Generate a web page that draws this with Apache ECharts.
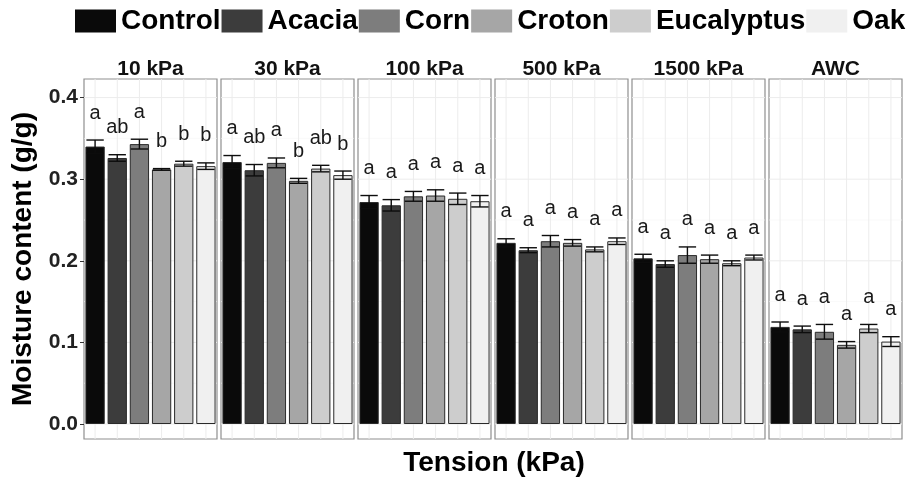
<!DOCTYPE html>
<html><head><meta charset="utf-8">
<script src="https://cdn.jsdelivr.net/npm/echarts@6/dist/echarts.min.js"></script>
<style>html,body{margin:0;padding:0;background:#fff}#c{width:907px;height:480px}</style>
</head><body><div id="c"></div>
<script>
// ---- data ----
const panels = ['10 kPa', '30 kPa', '100 kPa', '500 kPa', '1500 kPa', 'AWC'];
const treatments = ['Control', 'Acacia', 'Corn', 'Croton', 'Eucalyptus', 'Oak'];
const mean10 = [0.340, 0.326, 0.343, 0.312, 0.319, 0.316];
const mean30 = [0.321, 0.311, 0.320, 0.298, 0.313, 0.305];
const mean100 = [0.272, 0.268, 0.279, 0.280, 0.276, 0.273];
const mean500 = [0.222, 0.213, 0.224, 0.222, 0.214, 0.224];
const mean1500 = [0.203, 0.196, 0.207, 0.202, 0.197, 0.204];
const meanAWC = [0.119, 0.116, 0.113, 0.097, 0.117, 0.101];
const se10 = [0.008, 0.004, 0.006, 0.001, 0.003, 0.004];
const se30 = [0.008, 0.007, 0.006, 0.003, 0.004, 0.005];
const se100 = [0.008, 0.007, 0.006, 0.007, 0.007, 0.007];
const se500 = [0.005, 0.003, 0.007, 0.004, 0.003, 0.004];
const se1500 = [0.005, 0.004, 0.010, 0.005, 0.003, 0.003];
const seAWC = [0.006, 0.004, 0.009, 0.004, 0.005, 0.006];
const let10 = ['a', 'ab', 'a', 'b', 'b', 'b'];
const let30 = ['a', 'ab', 'a', 'b', 'ab', 'b'];
const let100 = ['a', 'a', 'a', 'a', 'a', 'a'];
const let500 = ['a', 'a', 'a', 'a', 'a', 'a'];
const let1500 = ['a', 'a', 'a', 'a', 'a', 'a'];
const letAWC = ['a', 'a', 'a', 'a', 'a', 'a'];
const yTicks = [0, 0.1, 0.2, 0.3, 0.4];
const yMinor = [0.05, 0.15, 0.25, 0.35];

const means = [mean10, mean30, mean100, mean500, mean1500, meanAWC];
const ses = [se10, se30, se100, se500, se1500, seAWC];
const letters = [let10, let30, let100, let500, let1500, letAWC];

// ---- style / layout ----
const colors = ['#0a0a0a', '#3c3c3c', '#7d7d7d', '#a6a6a6', '#cdcdcd', '#f0f0f0'];
const FONT = '"Liberation Sans", Arial, sans-serif';
const panelLeft = [84, 221, 358, 495, 632, 769];
const panelW = 133;
const panelTop = 79, panelBottom = 439;
const zeroY = 424, pxPerUnit = 816;
const yMax = (zeroY - panelTop) / pxPerUnit;
const yMin = -(panelBottom - zeroY) / pxPerUnit;

const grids = [], xAxes = [], yAxes = [], series = [];
panels.forEach((pn, p) => {
  grids.push({left: panelLeft[p], width: panelW, top: panelTop, height: panelBottom - panelTop,
    show: true, borderColor: '#8f8f8f', borderWidth: 1.2, backgroundColor: '#fff', containLabel: false});
  xAxes.push({type: 'category', gridIndex: p, data: treatments, position: 'top',
    axisLine: {show: false}, axisTick: {show: false}, axisLabel: {show: false}, splitLine: {show: false},
    name: pn, nameLocation: 'middle', nameGap: -1,
    nameTextStyle: {fontSize: 21, fontWeight: 'bold', color: '#111', fontFamily: FONT}});
  yAxes.push({type: 'value', gridIndex: p, min: yMin, max: yMax, show: false, splitLine: {show: false}});
  // faint gridlines
  series.push({type: 'custom', xAxisIndex: p, yAxisIndex: p, silent: true, z: 1,
    data: yTicks.map(v => [0, v, 1]).concat(yMinor.map(v => [0, v, 0])).concat(treatments.map((t, i) => [i, 0, 2])),
    renderItem(params, api) {
      const cs = params.coordSys;
      const kind = api.value(2);
      if (kind === 2) {
        const c = api.coord([api.value(0), 0]);
        return {type: 'line', shape: {x1: c[0], y1: cs.y, x2: c[0], y2: cs.y + cs.height},
          style: {stroke: '#ececec', lineWidth: 1}};
      }
      const c = api.coord([0, api.value(1)]);
      return {type: 'line', shape: {x1: cs.x, y1: c[1], x2: cs.x + cs.width, y2: c[1]},
        style: {stroke: kind === 1 ? '#ececec' : '#f5f5f5', lineWidth: kind === 1 ? 1 : 0.6}};
    }});
  treatments.forEach((t, i) => {
    series.push({type: 'bar', name: t, xAxisIndex: p, yAxisIndex: p, silent: true, z: 2,
      barWidth: '87%', barGap: '-100%',
      data: treatments.map((_, j) => j === i ? means[p][j] : '-'),
      itemStyle: {color: colors[i], borderColor: '#2a2a2a', borderWidth: 1}});
  });
  series.push({type: 'custom', xAxisIndex: p, yAxisIndex: p, silent: true, z: 5,
    data: treatments.map((t, j) => [j, means[p][j], ses[p][j]]),
    renderItem(params, api) {
      const x = api.value(0), m = api.value(1), s = api.value(2);
      const top = api.coord([x, m + s]), bot = api.coord([x, m - s]);
      const half = api.size([1, 0])[0] * 0.87 * 0.9 / 2;
      const st = {stroke: '#0d0d0d', lineWidth: 1.4};
      return {type: 'group', children: [
        {type: 'line', shape: {x1: top[0], y1: top[1], x2: bot[0], y2: bot[1]}, style: st},
        {type: 'line', shape: {x1: top[0] - half, y1: top[1], x2: top[0] + half, y2: top[1]}, style: st},
        {type: 'line', shape: {x1: bot[0] - half, y1: bot[1], x2: bot[0] + half, y2: bot[1]}, style: st},
        {type: 'text', x: top[0], y: top[1] - 27,
          style: {text: letters[p][params.dataIndex], fontSize: 20, fontFamily: FONT, fill: '#1a1a1a',
            align: 'center', verticalAlign: 'middle'}}
      ]};
    }});
});

// label-only axis (0..0.4)
const gi = panels.length;
grids.push({left: panelLeft[0], width: 1, top: zeroY - 0.4 * pxPerUnit, height: 0.4 * pxPerUnit});
xAxes.push({type: 'value', gridIndex: gi, show: false});
yAxes.push({type: 'value', gridIndex: gi, min: yTicks[0], max: yTicks[yTicks.length - 1], interval: 0.1,
  axisLine: {show: false}, axisTick: {show: true, length: 4, lineStyle: {color: '#333'}},
  splitLine: {show: false},
  axisLabel: {fontSize: 21, fontWeight: 'bold', color: '#222', fontFamily: FONT, margin: 6,
    formatter: v => v.toFixed(1)}});

const option = {
  animation: false,
  backgroundColor: '#fff',
  legend: {data: treatments, left: 75, top: 7, padding: 0, itemWidth: 41, itemHeight: 23, itemGap: 1,
    icon: 'rect', selectedMode: false, itemStyle: {borderWidth: 0},
    textStyle: {fontSize: 28, fontWeight: 'bold', color: '#000', fontFamily: FONT}},
  grid: grids, xAxis: xAxes, yAxis: yAxes, series: series,
  graphic: [
    {type: 'text', x: 23, y: 259, rotation: Math.PI / 2,
      style: {text: 'Moisture content (g/g)', fontSize: 28, fontWeight: 'bold', fill: '#000', fontFamily: FONT,
        align: 'center', verticalAlign: 'middle'}},
    {type: 'text', x: 494, y: 463,
      style: {text: 'Tension (kPa)', fontSize: 28, fontWeight: 'bold', fill: '#000', fontFamily: FONT,
        align: 'center', verticalAlign: 'middle'}}
  ]
};
const chart = echarts.init(document.getElementById('c'), null, {renderer: 'canvas'});
chart.setOption(option);
</script></body></html>
